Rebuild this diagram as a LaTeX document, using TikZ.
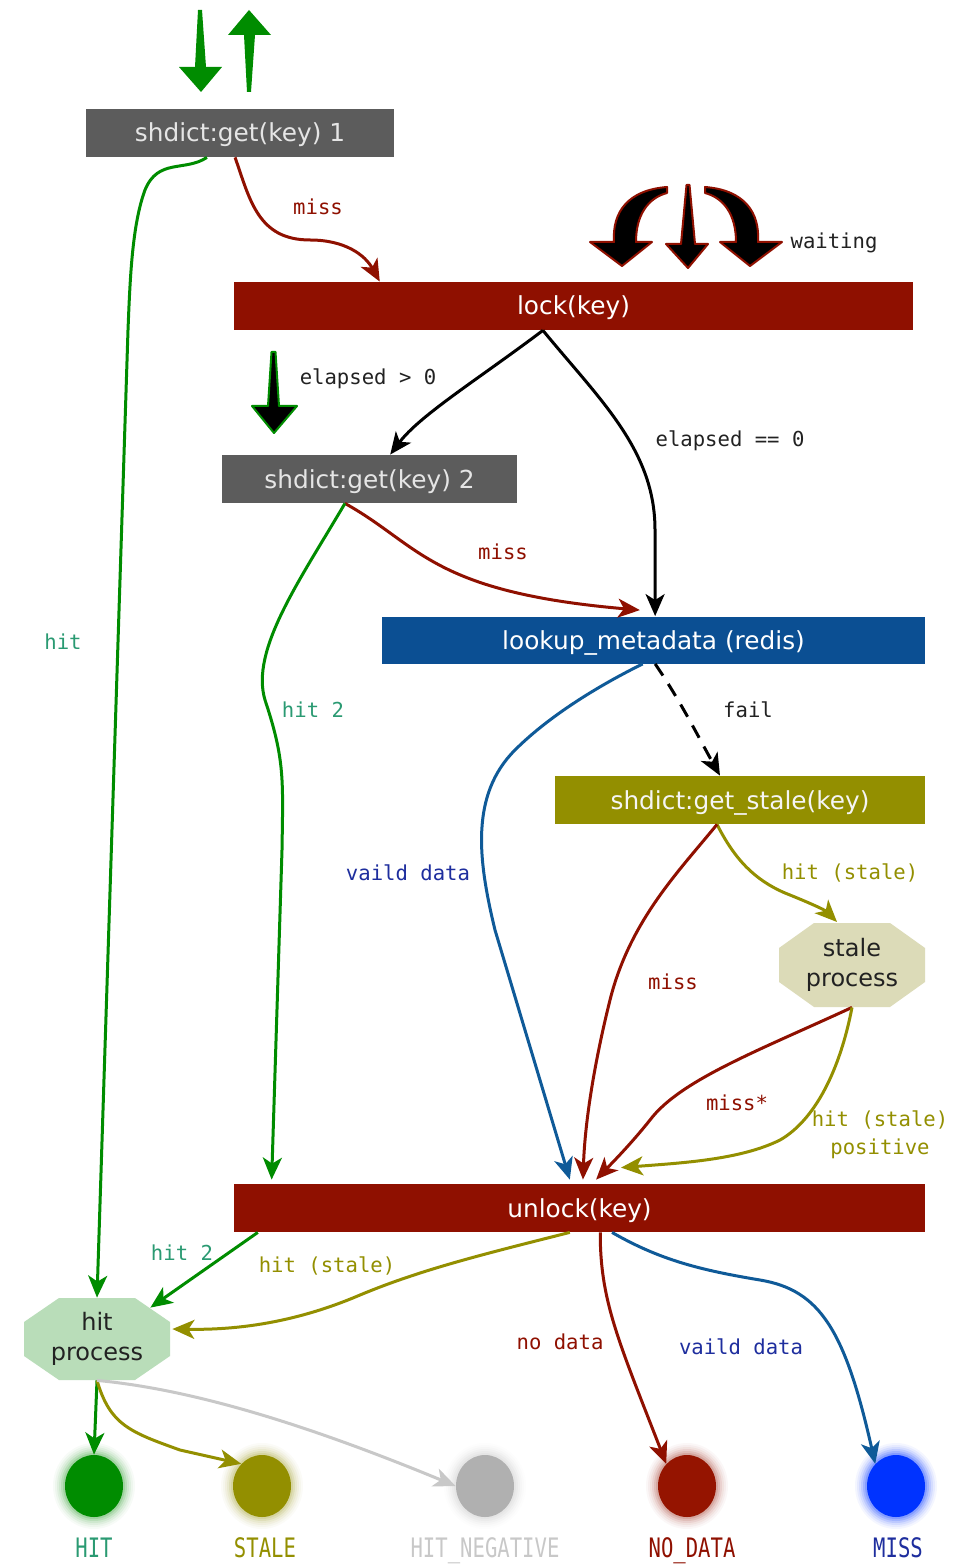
\documentclass[tikz,border=0pt]{standalone}
\usepackage{fontspec}
\setmainfont{DejaVu Sans}
\newfontfamily\monof{DejaVu Sans Mono}
\usetikzlibrary{arrows.meta,calc,shapes.geometric}

\definecolor{cGreen}{HTML}{008C00}
\definecolor{cRed}{HTML}{8F1000}
\definecolor{cBlue}{HTML}{0F5A98}
\definecolor{cOlive}{HTML}{938F00}
\definecolor{cTeal}{HTML}{2A9A72}
\definecolor{cNavy}{HTML}{1E2E9E}
\definecolor{cBoxGray}{HTML}{5C5C5C}
\definecolor{cBoxBlue}{HTML}{0B4F93}
\definecolor{cStaleFill}{HTML}{DCDBB8}
\definecolor{cHitFill}{HTML}{B9DDB9}
\definecolor{cLight}{HTML}{C8C8C8}
\definecolor{cMiss}{HTML}{0033FF}
\definecolor{cNoData}{HTML}{951400}
\definecolor{cNeg}{HTML}{B0B0B0}
\definecolor{cText}{HTML}{222222}

\tikzset{
  box/.style={rectangle, inner sep=0pt, minimum height=24pt,
    text height=10pt, text depth=1pt,
    font=\fontsize{12.4}{14}\selectfont, text=white},
  octext/.style={inner sep=0pt, align=center, text=cText,
    font=\fontsize{12}{15}\selectfont},
  lbl/.style={font=\monof\fontsize{10.3}{14}\selectfont, inner sep=1pt,
    text=cText, align=center},
  botlbl/.style={font=\monof\fontsize{10.3}{12}\selectfont, inner sep=0pt,
    anchor=base},
  conn/.style={line width=1.5pt,
    -{Stealth[length=11pt,width=9.5pt,inset=3pt]}},
  dot/.style={ellipse, inner sep=0pt, minimum width=29pt, minimum height=31pt},
  fatarrow/.style={line width=1pt, line join=round},
}

\begin{document}
\begin{tikzpicture}[x=0.5pt, y=-0.5pt]
\useasboundingbox (0,0) rectangle (958,1566);
\fill[white] (0,0) rectangle (958,1566);

% ---- entry / exit arrows at the top ----
\fill[cGreen] (198,10) -- (202,10) -- (206,67) -- (222,67) -- (201,92)
  -- (179,67) -- (195,67) -- cycle;
\fill[cGreen] (249,10) -- (271,35) -- (255,35) -- (251,92) -- (247,92)
  -- (244,35) -- (228,35) -- cycle;

% ---- waiting arrows ----
\filldraw[fatarrow, draw=cRed, fill=black]
  (667,187) .. controls (628,190) and (612,212) .. (614,242) -- (590,242)
  -- (622,266) -- (652,242) -- (636,242)
  .. controls (636,215) and (648,198) .. (667,193) -- cycle;
\filldraw[fatarrow, draw=cRed, fill=black]
  (686.5,185) -- (689.5,185) -- (695,244) -- (708,244) -- (688,268)
  -- (666,244) -- (681,244) -- cycle;
\filldraw[fatarrow, draw=cRed, fill=black]
  (705,187) .. controls (744,190) and (760,212) .. (758,242) -- (782,242)
  -- (750,266) -- (720,242) -- (736,242)
  .. controls (736,215) and (724,198) .. (705,193) -- cycle;

% ---- elapsed > 0 arrow ----
\filldraw[fatarrow, draw=cGreen, fill=black]
  (271.5,352) -- (275.5,352) -- (279,406) -- (297,406) -- (274,433)
  -- (252,406) -- (268,406) -- cycle;

% ---- boxes ----
\node[box, fill=cBoxGray, minimum width=154pt, text=black!10]
  (get1) at (240,133) {shdict:get(key) 1};
\node[box, fill=cRed, minimum width=339.5pt] (lock) at (573.5,306) {lock(key)};
\node[box, fill=cBoxGray, minimum width=147.5pt, text=black!10]
  (get2) at (369.5,479) {shdict:get(key) 2};
\node[box, fill=cBoxBlue, minimum width=271.5pt, minimum height=23.5pt]
  (lookup) at (653.5,640) {lookup\_metadata (redis)};
\node[box, fill=cOlive, minimum width=185pt, text=black!4]
  (stale) at (740,800) {shdict:get\_stale(key)};
\node[box, fill=cRed, minimum width=345.5pt] (unlock) at (579.5,1208) {unlock(key)};

% ---- octagons ----
\coordinate (spc) at (852,965);
\fill[cStaleFill] ($(spc)+(-38,-42)$) -- ($(spc)+(38,-42)$) -- ($(spc)+(73,-17)$)
  -- ($(spc)+(73,17)$) -- ($(spc)+(38,42)$) -- ($(spc)+(-38,42)$)
  -- ($(spc)+(-73,17)$) -- ($(spc)+(-73,-17)$) -- cycle;
\node[octext, minimum width=73pt, minimum height=42pt] (sp) at (spc) {stale\\process};

\coordinate (hpc) at (97,1339);
\fill[cHitFill] ($(hpc)+(-38,-41)$) -- ($(hpc)+(38,-41)$) -- ($(hpc)+(73,-17)$)
  -- ($(hpc)+(73,17)$) -- ($(hpc)+(38,41)$) -- ($(hpc)+(-38,41)$)
  -- ($(hpc)+(-73,17)$) -- ($(hpc)+(-73,-17)$) -- cycle;
\node[octext, minimum width=73pt, minimum height=41pt] (hp) at (hpc) {hit\\process};

% ---- result dots with glow ----
\coordinate (cHIT) at (94,1486);
\coordinate (cSTALE) at (262,1486);
\coordinate (cNEG) at (485,1486);
\coordinate (cNODATA) at (687,1486);
\coordinate (cMISS) at (896,1486);
\foreach \c/\col/\k in {cHIT/cGreen/1, cSTALE/cOlive/1, cNEG/cNeg/0.8,
                        cNODATA/cNoData/1, cMISS/cMiss/1.4}{
  \foreach \r/\o in {1/.13, 2/.10, 3/.075, 4/.055, 5/.04, 6/.03}{
    \fill[\col, opacity=\o*\k] (\c) ellipse [x radius=14.5pt+\r pt, y radius=15.5pt+\r pt];
  }
}
\node[dot, fill=cGreen] (hit) at (cHIT) {};
\node[dot, fill=cOlive] (stl) at (cSTALE) {};
\node[dot, fill=cNeg] (neg) at (cNEG) {};
\node[dot, fill=cNoData] (nod) at (cNODATA) {};
\node[dot, fill=cMiss] (mis) at (cMISS) {};

\node[botlbl, text=cTeal] (tHIT) at (94,1557) {\scalebox{1}[1.3]{HIT}};
\node[botlbl, text=cOlive] (tSTALE) at (265,1557) {\scalebox{1}[1.3]{STALE}};
\node[botlbl, text=cLight] (tNEG) at (485,1557) {\scalebox{1}[1.3]{HIT\_NEGATIVE}};
\node[botlbl, text=cRed] (tNOD) at (692,1557) {\scalebox{1}[1.3]{NO\_DATA}};
\node[botlbl, text=cNavy] (tMISS) at (898,1557) {\scalebox{1}[1.3]{MISS}};

% ---- connectors ----
\draw[conn, cGreen] ($(get1.south west)!0.393!(get1.south east)$)
  .. controls (185,172) and (158,158) .. (145,190)
  .. controls (132,225) and (130,280) .. (128,330) -- (hp.north);
\draw[conn, cRed] ($(get1.south west)!0.484!(get1.south east)$)
  .. controls (250,200) and (258,240) .. (310,240)
  .. controls (345,240) and (365,255) .. ($(lock.north west)!0.215!(lock.north east)$);
\draw[conn, black] ($(lock.south west)!0.455!(lock.south east)$)
  .. controls (480,378) and (420,415) .. ($(get2.north west)!0.57!(get2.north east)$);
\draw[conn, black] ($(lock.south west)!0.455!(lock.south east)$)
  .. controls (600,400) and (655,450) .. (655,530)
  -- ($(lookup.north west)!0.503!(lookup.north east)$);
\draw[conn, cRed] ($(get2.south west)!0.417!(get2.south east)$)
  .. controls (420,545) and (430,592) .. ($(lookup.north west)!0.475!(lookup.north east)+(0,-6)$);
\draw[conn, cGreen] ($(get2.south west)!0.417!(get2.south east)$)
  .. controls (300,580) and (250,650) .. (265,700)
  .. controls (285,760) and (283,780) .. (282,850)
  -- ($(unlock.north west)!0.055!(unlock.north east)+(0,-4)$);
\draw[conn, black, dash pattern=on 7pt off 5pt]
  ($(lookup.south west)!0.503!(lookup.south east)$)
  .. controls (680,700) and (700,740) .. ($(stale.north west)!0.446!(stale.north east)$);
\draw[conn, cBlue] ($(lookup.south west)!0.48!(lookup.south east)$)
  .. controls (590,690) and (545,720) .. (515,750)
  .. controls (470,795) and (478,860) .. (495,930)
  -- ($(unlock.north west)!0.486!(unlock.north east)+(0,-4)$);
\draw[conn, cOlive] ($(stale.south west)!0.438!(stale.south east)$)
  .. controls (735,860) and (755,880) .. (785,893)
  .. controls (810,903) and (825,910) .. (837,922);
\draw[conn, cRed] ($(stale.south west)!0.438!(stale.south east)$)
  .. controls (680,870) and (630,920) .. (610,1000)
  .. controls (595,1060) and (585,1120) .. ($(unlock.north west)!0.505!(unlock.north east)+(0,-4)$);
\draw[conn, cRed] (sp.south)
  .. controls (760,1050) and (680,1080) .. (650,1120)
  .. controls (630,1145) and (612,1163) .. ($(unlock.north west)!0.524!(unlock.north east)+(0,-4)$);
\draw[conn, cOlive] (sp.south)
  .. controls (840,1070) and (815,1120) .. (780,1140)
  .. controls (740,1160) and (680,1163) .. ($(unlock.north west)!0.56!(unlock.north east)+(0,-16)$);
\draw[conn, cGreen] ($(unlock.south west)!0.035!(unlock.south east)$)
  -- ($(hp.north east)+(-20,10)$);
\draw[conn, cOlive] ($(unlock.south west)!0.486!(unlock.south east)$)
  .. controls (480,1255) and (420,1270) .. (360,1295)
  .. controls (290,1325) and (230,1330) .. ($(hp.east)+(2,-10)$);
\draw[conn, cRed] ($(unlock.south west)!0.53!(unlock.south east)$)
  .. controls (600,1300) and (618,1340) .. (nod.north west);
\draw[conn, cBlue] ($(unlock.south west)!0.547!(unlock.south east)$)
  .. controls (660,1260) and (700,1270) .. (760,1280)
  .. controls (820,1290) and (845,1330) .. (mis.north west);
\draw[conn, cGreen] (hp.south) -- (hit.north);
\draw[conn, cOlive] (hp.south)
  .. controls (110,1425) and (130,1432) .. (180,1450) -- (stl.north west);
\draw[conn, cLight] (hp.south)
  .. controls (200,1390) and (320,1430) .. (neg.west);

% ---- labels ----
\node[lbl, text=cRed] (l1) at (318,207) {miss};
\node[lbl] (l2) at (834,243) {waiting};
\node[lbl] (l3) at (368,379) {elapsed > 0};
\node[lbl] (l4) at (730,441) {elapsed == 0};
\node[lbl, text=cRed] (l5) at (503,552) {miss};
\node[lbl, text=cTeal] (l6) at (63,642) {hit};
\node[lbl, text=cTeal] (l7) at (313,710) {hit 2};
\node[lbl] (l8) at (748,710) {fail};
\node[lbl, text=cNavy] (l9) at (408,873) {vaild data};
\node[lbl, text=cOlive] (l10) at (850,873) {hit (stale)};
\node[lbl, text=cRed] (l11) at (673,982) {miss};
\node[lbl, text=cRed] (l12) at (737,1103) {miss*};
\node[lbl, text=cOlive] (l13) at (880,1135) {hit (stale)\\positive};
\node[lbl, text=cTeal] (l14) at (182,1253) {hit 2};
\node[lbl, text=cOlive] (l15) at (327,1266) {hit (stale)};
\node[lbl, text=cRed] (l16) at (560,1342) {no data};
\node[lbl, text=cNavy] (l17) at (741,1347) {vaild data};
\end{tikzpicture}
\end{document}
